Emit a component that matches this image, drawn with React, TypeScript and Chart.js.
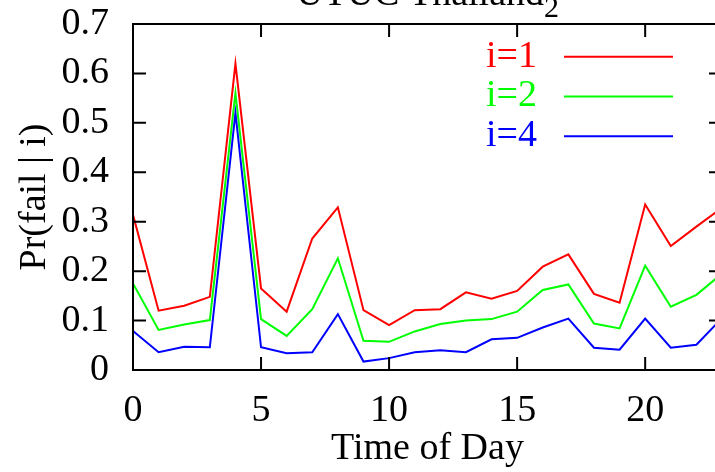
import React, { useEffect, useRef } from "react";
import { Chart, registerables } from "chart.js";

Chart.register(...registerables);

const FONT = '"Liberation Serif", "Times New Roman", Times, serif';

const hours = [0, 1, 2, 3, 4, 5, 6, 7, 8, 9, 10, 11, 12, 13, 14, 15, 16, 17, 18, 19, 20, 21, 22, 23];

const seriesI1 = [0.314, 0.120, 0.130, 0.148, 0.620, 0.165, 0.118, 0.266, 0.329, 0.121, 0.091, 0.121, 0.123, 0.157, 0.144, 0.160, 0.209, 0.234, 0.154, 0.136, 0.335, 0.251, 0.290, 0.328];
const seriesI2 = [0.175, 0.081, 0.092, 0.101, 0.560, 0.103, 0.069, 0.123, 0.226, 0.059, 0.057, 0.078, 0.093, 0.100, 0.103, 0.118, 0.162, 0.173, 0.094, 0.084, 0.211, 0.128, 0.152, 0.195];
const seriesI4 = [0.079, 0.036, 0.047, 0.046, 0.520, 0.046, 0.034, 0.036, 0.113, 0.017, 0.024, 0.036, 0.040, 0.036, 0.062, 0.065, 0.086, 0.104, 0.045, 0.041, 0.104, 0.045, 0.051, 0.105];

const seriesLabels = ["i=1", "i=2", "i=4"];
const seriesColors = ["#ff0000", "#00ff00", "#0000ff"];

const xTickValues = [0, 5, 10, 15, 20];
const xTickLabels = ["0", "5", "10", "15", "20"];
const yTickValues = [0, 0.1, 0.2, 0.3, 0.4, 0.5, 0.6, 0.7];
const yTickLabels = ["0", "0.1", "0.2", "0.3", "0.4", "0.5", "0.6", "0.7"];

const titleMain = "UTUC Thailand";
const titleSub = "2";
const xTitle = "Time of Day";
const yTitle = "Pr(fail | i)";

const framePlugin = {
  id: "gnuframe",
  afterDatasetsDraw(chart: any) {
    const { ctx, chartArea: a, scales } = chart;
    ctx.save();
    ctx.strokeStyle = "#000";
    ctx.lineWidth = 2;
    ctx.lineCap = "butt";
    ctx.strokeRect(a.left, a.top, a.right - a.left, a.bottom - a.top);
    const tl = 13;
    ctx.beginPath();
    for (const v of yTickValues) {
      const y = scales.y.getPixelForValue(v);
      ctx.moveTo(a.left, y);
      ctx.lineTo(a.left + tl, y);
      ctx.moveTo(a.right, y);
      ctx.lineTo(a.right - tl, y);
    }
    for (const v of xTickValues) {
      const x = scales.x.getPixelForValue(v);
      ctx.moveTo(x, a.bottom);
      ctx.lineTo(x, a.bottom - tl);
      ctx.moveTo(x, a.top);
      ctx.lineTo(x, a.top + tl);
    }
    ctx.stroke();

    // title (partly above the canvas)
    ctx.fillStyle = "#000";
    ctx.textBaseline = "alphabetic";
    ctx.textAlign = "left";
    ctx.font = `38px ${FONT}`;
    const wMain = ctx.measureText(titleMain).width;
    ctx.font = `30px ${FONT}`;
    const wSub = ctx.measureText(titleSub).width;
    const cx = (a.left + a.right) / 2;
    const x0 = cx - (wMain + wSub) / 2;
    ctx.font = `38px ${FONT}`;
    ctx.fillText(titleMain, x0, 5);
    ctx.font = `30px ${FONT}`;
    ctx.fillText(titleSub, x0 + wMain, 17);

    // key
    ctx.font = `38px ${FONT}`;
    ctx.textAlign = "right";
    ctx.textBaseline = "middle";
    for (let i = 0; i < seriesLabels.length; i++) {
      const y = a.top + 32.7 + i * 39.8;
      ctx.fillStyle = seriesColors[i];
      ctx.fillText(seriesLabels[i], a.right - 185, y);
      ctx.strokeStyle = seriesColors[i];
      ctx.lineWidth = 2;
      ctx.beginPath();
      ctx.moveTo(a.right - 158, y);
      ctx.lineTo(a.right - 49, y);
      ctx.stroke();
    }
    ctx.restore();
  },
};

export default function App() {
  const ref = useRef<HTMLCanvasElement>(null);
  useEffect(() => {
    const font = { family: FONT, size: 38 };
    const mk = (vals: number[], i: number, order: number) => ({
      label: seriesLabels[i],
      data: hours.map((h, k) => ({ x: h, y: vals[k] })),
      borderColor: seriesColors[i],
      backgroundColor: seriesColors[i],
      borderWidth: 2,
      pointRadius: 0,
      tension: 0,
      fill: false,
      order,
    });
    const chart = new Chart(ref.current!, {
      type: "line",
      data: {
        datasets: [mk(seriesI1, 0, 3), mk(seriesI2, 1, 2), mk(seriesI4, 2, 1)],
      },
      options: {
        animation: false,
        responsive: false,
        devicePixelRatio: 1,
        layout: { padding: { top: 24, right: 18, bottom: 0, left: 0 } },
        plugins: {
          legend: { display: false },
          tooltip: { enabled: false },
          title: { display: false },
        },
        scales: {
          x: {
            type: "linear",
            min: 0,
            max: 23,
            afterBuildTicks: (s: any) => {
              s.ticks = xTickValues.map((v) => ({ value: v }));
            },
            afterFit: (s: any) => {
              s.height = 102;
              s.paddingLeft = 0;
              s.paddingRight = 0;
            },
            ticks: {
              font,
              color: "#000",
              padding: 18,
              maxRotation: 0,
              autoSkip: false,
              callback: (_v: any, i: number) => xTickLabels[i],
            },
            grid: { display: false, drawTicks: false },
            border: { display: false },
            title: { display: true, text: xTitle, font, color: "#000", padding: { top: 0, bottom: 0 } },
          },
          y: {
            type: "linear",
            min: 0,
            max: 0.7,
            afterBuildTicks: (s: any) => {
              s.ticks = yTickValues.map((v) => ({ value: v }));
            },
            afterFit: (s: any) => {
              s.width = 133;
              s.paddingTop = 0;
              s.paddingBottom = 0;
            },
            ticks: {
              font,
              color: "#000",
              padding: 24,
              autoSkip: false,
              callback: (_v: any, i: number) => yTickLabels[i],
            },
            grid: { display: false, drawTicks: false },
            border: { display: false },
            title: { display: true, text: yTitle, font, color: "#000", padding: { top: 12, bottom: 0 } },
          },
        },
      } as any,
      plugins: [framePlugin],
    });
    return () => chart.destroy();
  }, []);
  return (
    <div
      style={{
        position: "fixed",
        left: 0,
        top: 0,
        width: 715,
        height: 472,
        overflow: "hidden",
        background: "#fff",
      }}
    >
      <canvas ref={ref} width={740} height={472} style={{ display: "block", width: 740, height: 472 }} />
    </div>
  );
}
